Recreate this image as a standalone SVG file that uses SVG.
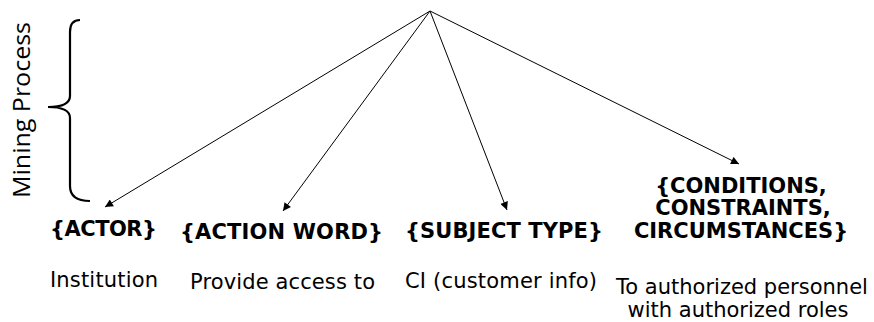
<svg xmlns="http://www.w3.org/2000/svg" width="874" height="322" viewBox="0 0 874 322">
<style>
.b{font-family:"DejaVu Sans",Verdana,sans-serif;font-weight:bold;font-size:21px;fill:#000}
.r{font-family:"DejaVu Sans",Verdana,sans-serif;font-size:21px;fill:#000}
.m{font-family:"Open Sans","Noto Sans",sans-serif;font-size:24px;fill:#000}
.c{stroke:#000;stroke-width:1;fill:none}
</style>
<defs>
<marker id="ah" viewBox="0 0 10 10" refX="10" refY="5" markerWidth="10" markerHeight="8" markerUnits="userSpaceOnUse" orient="auto">
<path d="M0,0L10,5L0,10z" fill="#000"/>
</marker>
</defs>
<g id="brace">
<path d="M80,20 C73,20 70,24 70,32 L70,96 C70,103 62,107 48,107 C62,107 70,111 70,118 L70,186 C70,196 76,201 90,201" fill="none" stroke="#000" stroke-width="2.2"/>
<text class="m" transform="translate(30,110) rotate(-90)" text-anchor="middle" textLength="176" lengthAdjust="spacingAndGlyphs">Mining Process</text>
</g>
<g id="connectors">
<line class="c" x1="430" y1="11" x2="105" y2="207" marker-end="url(#ah)"/>
<line class="c" x1="430" y1="11" x2="283" y2="211" marker-end="url(#ah)"/>
<line class="c" x1="430" y1="11" x2="507" y2="210" marker-end="url(#ah)"/>
<line class="c" x1="430" y1="11" x2="739" y2="164" marker-end="url(#ah)"/>
</g>
<g id="actor">
<text class="b" x="50" y="236" textLength="107">{ACTOR}</text>
<text class="r" x="50" y="287" textLength="108">Institution</text>
</g>
<g id="action">
<text class="b" x="180" y="239" textLength="203">{ACTION WORD}</text>
<text class="r" x="190" y="289" textLength="185">Provide access to</text>
</g>
<g id="subject">
<text class="b" x="405" y="238" textLength="198">{SUBJECT TYPE}</text>
<text class="r" x="405" y="288" textLength="192">CI (customer info)</text>
</g>
<g id="conditions">
<text class="b" x="741" y="193" text-anchor="middle">{CONDITIONS,</text>
<text class="b" x="743" y="215" text-anchor="middle">CONSTRAINTS,</text>
<text class="b" x="741" y="238" text-anchor="middle">CIRCUMSTANCES}</text>
<text class="r" x="742" y="294" text-anchor="middle">To authorized personnel</text>
<text class="r" x="738" y="317" text-anchor="middle">with authorized roles</text>
</g>
</svg>
